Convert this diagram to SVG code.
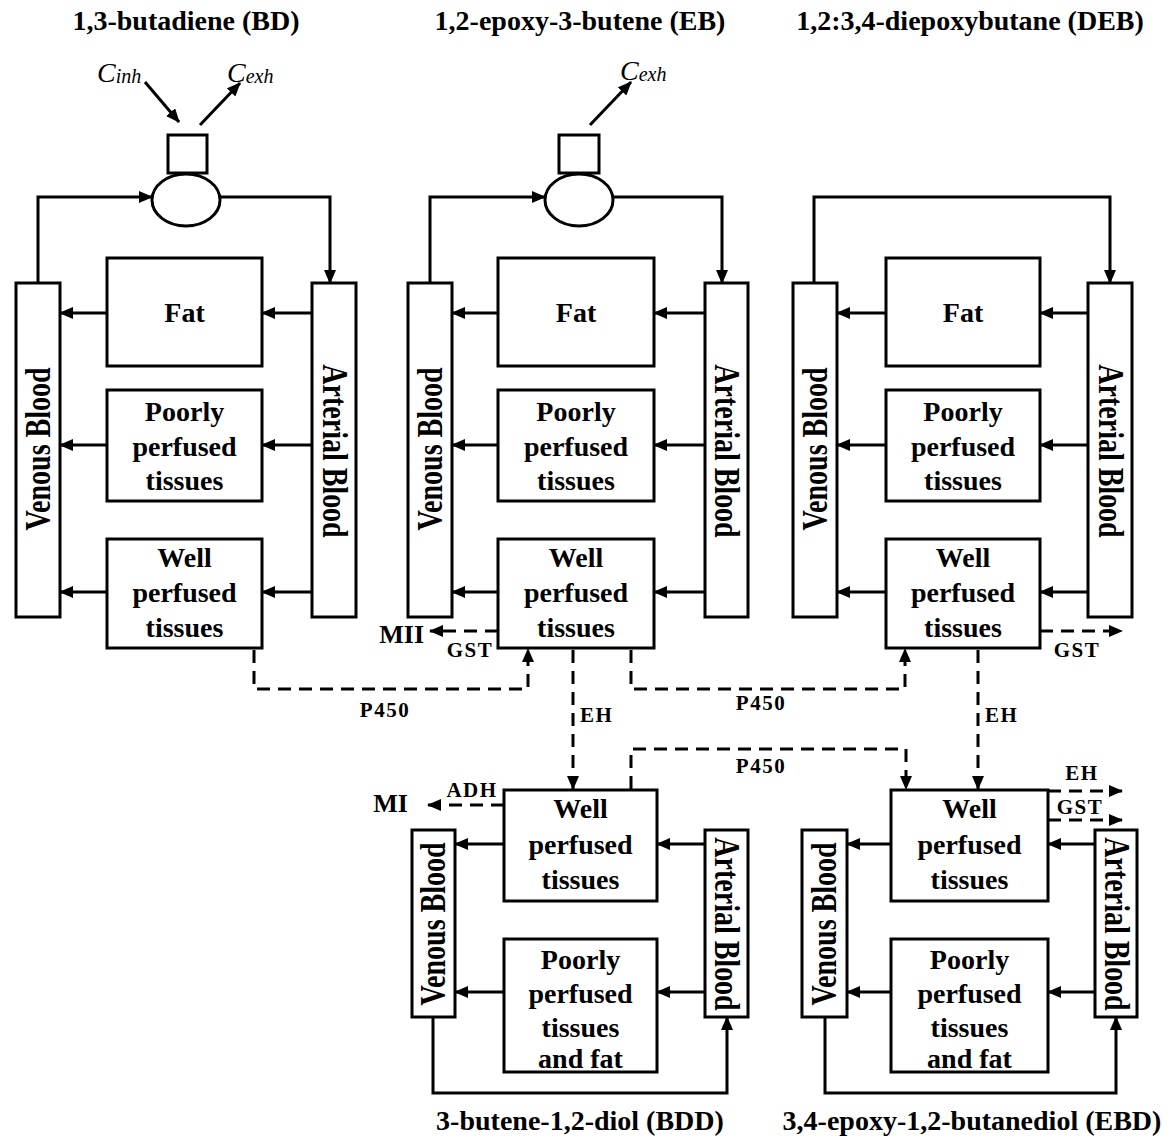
<svg xmlns="http://www.w3.org/2000/svg" width="1174" height="1138" viewBox="0 0 1174 1138">
<style>
.box{fill:none;stroke:#000;stroke-width:3}
.ln{fill:none;stroke:#000;stroke-width:3;marker-end:url(#ah)}
.ds{fill:none;stroke:#000;stroke-width:3;stroke-dasharray:13 8;marker-end:url(#ah)}
text{font-family:"Liberation Serif","Times New Roman",serif;font-weight:bold;fill:#000}
.lb{font-size:28px;text-anchor:middle}
.tt{font-size:28px;text-anchor:middle}
.sm{font-size:21px;letter-spacing:1.5px}
.rt{font-size:28px;text-anchor:middle}
.it{font-style:italic;font-weight:normal}
.big{font-size:26px}
</style>
<defs>
<marker id="ah" markerWidth="14" markerHeight="12" refX="13" refY="6" orient="auto" markerUnits="userSpaceOnUse"><path d="M0,0 L14,6 L0,12 z" fill="#000"/></marker>
</defs>
<rect x="0" y="0" width="1174" height="1138" fill="#fff"/>

<!-- Titles -->
<g id="titles">
<text class="tt" x="186" y="30">1,3-butadiene (BD)</text>
<text class="tt" x="580" y="30">1,2-epoxy-3-butene (EB)</text>
<text class="tt" x="970" y="30">1,2:3,4-diepoxybutane (DEB)</text>
<text class="tt" x="580" y="1130">3-butene-1,2-diol (BDD)</text>
<text class="tt" x="972" y="1130">3,4-epoxy-1,2-butanediol (EBD)</text>
</g>

<!-- BD column -->
<g id="bd-lung">
<rect class="box" x="168" y="135" width="39" height="38"/>
<ellipse class="box" cx="186" cy="200" rx="34" ry="26"/>
<text class="it" x="97" y="82"><tspan font-size="28">C</tspan><tspan font-size="20" dy="1">inh</tspan></text>
<text class="it" x="227" y="82"><tspan font-size="28">C</tspan><tspan font-size="20" dy="1">exh</tspan></text>
</g>
<g id="bd-venous">
<rect class="box" x="16" y="283" width="44" height="334"/>
<text class="rt" transform="translate(49.5,449) rotate(-90) scale(1,1.25)">Venous Blood</text>
</g>
<g id="bd-arterial">
<rect class="box" x="312" y="283" width="44" height="334"/>
<text class="rt" transform="translate(322.5,451) rotate(90) scale(1,1.25)">Arterial Blood</text>
</g>
<g id="bd-fat">
<rect class="box" x="107" y="258" width="155" height="108"/>
<text class="lb" x="184.5" y="322">Fat</text>
</g>
<g id="bd-poorly">
<rect class="box" x="107" y="390" width="155" height="111"/>
<text class="lb" x="184.5" y="421">Poorly</text>
<text class="lb" x="184.5" y="456">perfused</text>
<text class="lb" x="184.5" y="490">tissues</text>
</g>
<g id="bd-well">
<rect class="box" x="107" y="539" width="155" height="109"/>
<text class="lb" x="184.5" y="567">Well</text>
<text class="lb" x="184.5" y="602">perfused</text>
<text class="lb" x="184.5" y="637">tissues</text>
</g>

<!-- EB column -->
<g id="eb-lung">
<rect class="box" x="559" y="135" width="40" height="38"/>
<ellipse class="box" cx="579" cy="200" rx="34" ry="26"/>
<text class="it" x="620" y="80"><tspan font-size="28">C</tspan><tspan font-size="20" dy="1">exh</tspan></text>
</g>
<g id="eb-venous">
<rect class="box" x="408" y="283" width="44" height="334"/>
<text class="rt" transform="translate(441.5,449) rotate(-90) scale(1,1.25)">Venous Blood</text>
</g>
<g id="eb-arterial">
<rect class="box" x="705" y="283" width="43" height="334"/>
<text class="rt" transform="translate(715,451) rotate(90) scale(1,1.25)">Arterial Blood</text>
</g>
<g id="eb-fat">
<rect class="box" x="498" y="258" width="156" height="108"/>
<text class="lb" x="576" y="322">Fat</text>
</g>
<g id="eb-poorly">
<rect class="box" x="498" y="390" width="156" height="111"/>
<text class="lb" x="576" y="421">Poorly</text>
<text class="lb" x="576" y="456">perfused</text>
<text class="lb" x="576" y="490">tissues</text>
</g>
<g id="eb-well">
<rect class="box" x="498" y="539" width="156" height="109"/>
<text class="lb" x="576" y="567">Well</text>
<text class="lb" x="576" y="602">perfused</text>
<text class="lb" x="576" y="637">tissues</text>
</g>

<!-- DEB column -->
<g id="deb-venous">
<rect class="box" x="793" y="283" width="44" height="334"/>
<text class="rt" transform="translate(826.5,449) rotate(-90) scale(1,1.25)">Venous Blood</text>
</g>
<g id="deb-arterial">
<rect class="box" x="1088" y="283" width="44" height="334"/>
<text class="rt" transform="translate(1098.5,451) rotate(90) scale(1,1.25)">Arterial Blood</text>
</g>
<g id="deb-fat">
<rect class="box" x="886" y="258" width="154" height="108"/>
<text class="lb" x="963" y="322">Fat</text>
</g>
<g id="deb-poorly">
<rect class="box" x="886" y="390" width="154" height="111"/>
<text class="lb" x="963" y="421">Poorly</text>
<text class="lb" x="963" y="456">perfused</text>
<text class="lb" x="963" y="490">tissues</text>
</g>
<g id="deb-well">
<rect class="box" x="886" y="539" width="154" height="109"/>
<text class="lb" x="963" y="567">Well</text>
<text class="lb" x="963" y="602">perfused</text>
<text class="lb" x="963" y="637">tissues</text>
</g>

<!-- BDD column -->
<g id="bdd-venous">
<rect class="box" x="412" y="830" width="43" height="187"/>
<text class="rt" transform="translate(445,924) rotate(-90) scale(1,1.25)">Venous Blood</text>
</g>
<g id="bdd-arterial">
<rect class="box" x="705" y="830" width="43" height="187"/>
<text class="rt" transform="translate(715,924) rotate(90) scale(1,1.25)">Arterial Blood</text>
</g>
<g id="bdd-well">
<rect class="box" x="504" y="790" width="153" height="111"/>
<text class="lb" x="580.5" y="818">Well</text>
<text class="lb" x="580.5" y="854">perfused</text>
<text class="lb" x="580.5" y="889">tissues</text>
</g>
<g id="bdd-poorly">
<rect class="box" x="504" y="939" width="153" height="133"/>
<text class="lb" x="580.5" y="969">Poorly</text>
<text class="lb" x="580.5" y="1003">perfused</text>
<text class="lb" x="580.5" y="1037">tissues</text>
<text class="lb" x="580.5" y="1068">and fat</text>
</g>

<!-- EBD column -->
<g id="ebd-venous">
<rect class="box" x="802" y="830" width="45" height="187"/>
<text class="rt" transform="translate(836,924) rotate(-90) scale(1,1.25)">Venous Blood</text>
</g>
<g id="ebd-arterial">
<rect class="box" x="1095" y="830" width="42" height="187"/>
<text class="rt" transform="translate(1104.5,924) rotate(90) scale(1,1.25)">Arterial Blood</text>
</g>
<g id="ebd-well">
<rect class="box" x="891" y="790" width="157" height="111"/>
<text class="lb" x="969.5" y="818">Well</text>
<text class="lb" x="969.5" y="854">perfused</text>
<text class="lb" x="969.5" y="889">tissues</text>
</g>
<g id="ebd-poorly">
<rect class="box" x="891" y="939" width="157" height="133"/>
<text class="lb" x="969.5" y="969">Poorly</text>
<text class="lb" x="969.5" y="1003">perfused</text>
<text class="lb" x="969.5" y="1037">tissues</text>
<text class="lb" x="969.5" y="1068">and fat</text>
</g>

<!-- Metabolite sinks -->
<g id="mii"><text class="big" x="424" y="643" text-anchor="end">MII</text></g>
<g id="mi"><text class="big" x="408" y="812" text-anchor="end">MI</text></g>

<!-- Connectors -->
<g id="connectors">
<path class="ln" d="M145,82 L179,122"/>
<path class="ln" d="M200,125 L240,83"/>
<path class="ln" d="M590,125 L631,82"/>
<path class="ln" d="M38,283 V197 H152"/>
<path class="ln" d="M220,197 H330 V283"/>
<path class="ln" d="M430,283 V197 H545"/>
<path class="ln" d="M613,197 H722 V283"/>
<path class="ln" d="M814,283 V197 H1110 V283"/>
<path class="ln" d="M312,313 H262"/><path class="ln" d="M107,313 H60"/>
<path class="ln" d="M312,445 H262"/><path class="ln" d="M107,445 H60"/>
<path class="ln" d="M312,592 H262"/><path class="ln" d="M107,592 H60"/>
<path class="ln" d="M705,313 H654"/><path class="ln" d="M498,313 H452"/>
<path class="ln" d="M705,445 H654"/><path class="ln" d="M498,445 H452"/>
<path class="ln" d="M705,592 H654"/><path class="ln" d="M498,592 H452"/>
<path class="ln" d="M1088,313 H1040"/><path class="ln" d="M886,313 H837"/>
<path class="ln" d="M1088,445 H1040"/><path class="ln" d="M886,445 H837"/>
<path class="ln" d="M1088,592 H1040"/><path class="ln" d="M886,592 H837"/>
<path class="ln" d="M705,844 H657"/><path class="ln" d="M504,844 H455"/>
<path class="ln" d="M705,992 H657"/><path class="ln" d="M504,992 H455"/>
<path class="ln" d="M433,1017 V1093 H727 V1017"/>
<path class="ln" d="M1095,844 H1048"/><path class="ln" d="M891,844 H847"/>
<path class="ln" d="M1095,992 H1048"/><path class="ln" d="M891,992 H847"/>
<path class="ln" d="M825,1017 V1093 H1116 V1017"/>
<path class="ds" d="M254,650 V689 H528 V649"/>
<path class="ds" d="M498,631 H430"/>
<path class="ds" d="M1040,631 H1122"/>
<path class="ds" d="M573,650 V789"/>
<path class="ds" d="M631,650 V689 H905 V649"/>
<path class="ds" d="M631,789 V749 H906 V789"/>
<path class="ds" d="M978,650 V789"/>
<path class="ds" d="M504,805 H428"/>
<path class="ds" d="M1048,791 H1122"/>
<path class="ds" d="M1048,820 H1122"/>
<text class="sm" x="385" y="717" text-anchor="middle">P450</text>
<text class="sm" x="470" y="657" text-anchor="middle">GST</text>
<text class="sm" x="580" y="722">EH</text>
<text class="sm" x="761" y="710" text-anchor="middle">P450</text>
<text class="sm" x="761" y="773" text-anchor="middle">P450</text>
<text class="sm" x="985" y="722">EH</text>
<text class="sm" x="1077" y="657" text-anchor="middle">GST</text>
<text class="sm" x="1082" y="780" text-anchor="middle">EH</text>
<text class="sm" x="1080" y="814" text-anchor="middle">GST</text>
<text class="sm" x="472" y="797" text-anchor="middle">ADH</text>
</g>
</svg>
